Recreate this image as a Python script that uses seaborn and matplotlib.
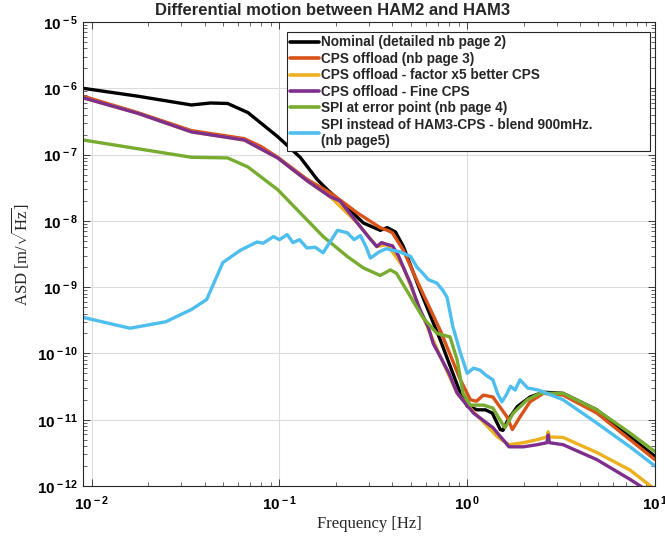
import numpy as np
import pandas as pd
import matplotlib
matplotlib.use("Agg")
import matplotlib.pyplot as plt
from matplotlib.ticker import LogLocator, FuncFormatter, NullFormatter
import seaborn as sns

# ---------------- data ----------------
labels = [
    "Nominal (detailed nb page 2)",
    "CPS offload (nb page 3)",
    "CPS offload - factor x5 better CPS",
    "CPS offload - Fine CPS",
    "SPI at error point (nb page 4)",
    "SPI instead of HAM3-CPS - blend 900mHz.\n(nb page5)",
]
colors = ["#000000", "#D95319", "#EDB120", "#7E2F8E", "#77AC30", "#4DBEEE"]

nominal_f = [0.009, 0.0176, 0.034, 0.043, 0.053, 0.068, 0.098, 0.129, 0.159, 0.18,
             0.22, 0.28, 0.344, 0.375, 0.415, 0.457, 0.56, 0.72, 0.92, 1.0, 1.13,
             1.25, 1.36, 1.5, 1.55, 1.65, 1.85, 2.16, 2.54, 3.24, 4.9, 7.36, 10.0]
nominal_a = [1.0e-6, 7.6e-7, 5.6e-7, 6.0e-7, 5.9e-7, 4.3e-7, 1.86e-7, 9.1e-8, 4.2e-8, 2.95e-8,
             1.78e-8, 9.3e-9, 7.2e-9, 7.9e-9, 6.8e-9, 4.1e-9, 9.1e-10, 1.58e-10, 2.5e-11, 1.6e-11, 1.41e-11,
             1.41e-11, 1.26e-11, 7.1e-12, 6.9e-12, 1.0e-11, 1.58e-11, 2.2e-11, 2.6e-11, 2.5e-11, 1.41e-11, 5.5e-12, 2.8e-12]

cps_f = [0.009, 0.0176, 0.034, 0.065, 0.08, 0.098, 0.141, 0.18, 0.194, 0.26, 0.344,
         0.38, 0.40, 0.457, 0.56, 0.72, 0.92, 1.04, 1.12, 1.22, 1.37, 1.63, 1.74,
         1.91, 2.16, 2.54, 3.24, 4.9, 7.36, 10.0]
cps_a = [7.6e-7, 4.3e-7, 2.3e-7, 1.74e-7, 1.32e-7, 9.1e-8, 4.2e-8, 2.8e-8, 2.45e-8, 1.32e-8, 7.9e-9,
         7.1e-9, 6.6e-9, 3.6e-9, 1.0e-9, 2.2e-10, 4.0e-11, 2.0e-11, 1.9e-11, 2.35e-11, 2.2e-11, 1.1e-11, 7.1e-12,
         1.1e-11, 1.86e-11, 2.5e-11, 2.35e-11, 1.26e-11, 5.0e-12, 2.5e-12]

x5_f = [0.009, 0.0176, 0.034, 0.065, 0.098, 0.141, 0.187, 0.26, 0.33, 0.375, 0.457,
        0.56, 0.72, 0.885, 1.08, 1.45, 1.67, 1.99, 2.36, 2.66, 2.7, 2.74, 3.24,
        4.9, 7.36, 10.0]
x5_a = [7.2e-7, 4.2e-7, 2.2e-7, 1.66e-7, 8.9e-8, 4.0e-8, 2.3e-8, 9.3e-9, 4.1e-9, 4.4e-9, 2.0e-9,
        4.6e-10, 8.9e-11, 2.5e-11, 1.32e-11, 5.5e-12, 4.2e-12, 4.5e-12, 5.0e-12, 5.5e-12, 6.6e-12, 5.5e-12, 5.4e-12,
        3.2e-12, 1.74e-12, 8.9e-13]

fine_f = [0.009, 0.0176, 0.034, 0.065, 0.098, 0.141, 0.187, 0.21, 0.26, 0.30, 0.33,
          0.35, 0.375, 0.40, 0.43, 0.457, 0.50, 0.53, 0.56, 0.62, 0.66, 0.72, 0.8,
          0.885, 1.08, 1.37, 1.67, 1.99, 2.36, 2.66, 2.7, 2.74, 3.24, 4.9, 7.36, 10.0]
fine_a = [7.2e-7, 4.2e-7, 2.2e-7, 1.66e-7, 8.9e-8, 4.0e-8, 2.3e-8, 2.0e-8, 9.3e-9, 5.6e-9, 4.1e-9,
          4.7e-9, 4.4e-9, 4.2e-9, 3.0e-9, 2.0e-9, 1.12e-9, 7.0e-10, 4.6e-10, 2.5e-10, 1.4e-10, 8.9e-11, 5.0e-11,
          2.5e-11, 1.26e-11, 7.6e-12, 3.9e-12, 3.9e-12, 4.2e-12, 4.5e-12, 5.9e-12, 4.5e-12, 4.2e-12, 2.5e-12, 1.26e-12, 7.2e-13]

spi_err_f = [0.009, 0.034, 0.053, 0.068, 0.098, 0.171, 0.23, 0.28, 0.344, 0.39, 0.42,
             0.50, 0.58, 0.69, 0.74, 0.81, 0.885, 0.95, 1.04, 1.22, 1.37, 1.53, 1.59,
             1.76, 2.09, 2.44, 3.24, 4.9, 7.36, 10.0]
spi_err_a = [1.66e-7, 9.1e-8, 8.9e-8, 6.5e-8, 2.95e-8, 5.8e-9, 2.9e-9, 1.95e-9, 1.5e-9, 1.82e-9, 1.62e-9,
             7.1e-10, 3.5e-10, 2.0e-10, 1.9e-10, 1.78e-10, 7.9e-11, 2.5e-11, 1.66e-11, 1.66e-11, 1.5e-11, 8.9e-12, 7.6e-12,
             1.26e-11, 2.0e-11, 2.5e-11, 2.5e-11, 1.41e-11, 6.3e-12, 3.3e-12]

spi_f = [0.009, 0.016, 0.0248, 0.034, 0.041, 0.05, 0.062, 0.076, 0.082, 0.093, 0.10,
         0.11, 0.118, 0.128, 0.14, 0.155, 0.171, 0.185, 0.204, 0.23, 0.25, 0.27, 0.29,
         0.305, 0.34, 0.37, 0.40, 0.44, 0.5, 0.54, 0.58, 0.62, 0.69, 0.74, 0.78, 0.84,
         0.92, 1.0, 1.08, 1.17, 1.27, 1.37, 1.45, 1.53, 1.62, 1.7, 1.8, 1.91, 2.1, 2.4,
         3.24, 4.9, 7.36, 10.0]
spi_a = [3.5e-10, 2.4e-10, 3.0e-10, 4.6e-10, 6.5e-10, 2.35e-9, 3.6e-9, 4.8e-9, 4.6e-9, 5.8e-9, 5.2e-9,
         6.2e-9, 4.7e-9, 5.2e-9, 3.9e-9, 4.0e-9, 3.3e-9, 4.7e-9, 7.2e-9, 6.6e-9, 5.2e-9, 6.0e-9, 4.0e-9,
         2.75e-9, 3.4e-9, 3.8e-9, 3.6e-9, 3.4e-9, 2.9e-9, 2.0e-9, 1.62e-9, 1.3e-9, 1.15e-9, 9.0e-10, 7.1e-10, 2.5e-10,
         1.02e-10, 5.0e-11, 6.0e-11, 5.6e-11, 4.6e-11, 4.0e-11, 2.5e-11, 1.86e-11, 2.4e-11, 3.2e-11, 2.8e-11, 4.0e-11, 3.0e-11, 2.8e-11,
         2.0e-11, 8.9e-12, 3.9e-12, 2.0e-12]

series = [
    (nominal_f, nominal_a),
    (cps_f, cps_a),
    (x5_f, x5_a),
    (fine_f, fine_a),
    (spi_err_f, spi_err_a),
    (spi_f, spi_a),
]

# ---------------- styling ----------------
sns.set_theme(style="white")
plt.rcParams["font.family"] = ["Liberation Sans", "DejaVu Sans"]
plt.rcParams["mathtext.fontset"] = "custom"
plt.rcParams["mathtext.rm"] = "Liberation Serif"
plt.rcParams["mathtext.it"] = "Liberation Serif:italic"
plt.rcParams["mathtext.bf"] = "Liberation Sans:bold"

fig = plt.figure(figsize=(6.65, 5.36), dpi=100)
ax = fig.add_axes([83 / 665, 50 / 536, 572 / 665, 464 / 536])

for (f, a), lab, col in zip(series, labels, colors):
    df = pd.DataFrame({"f": f, "asd": a})
    sns.lineplot(data=df, x="f", y="asd", ax=ax, color=col, linewidth=2.4,
                 label=lab, sort=False, estimator=None)

ax.set_xscale("log")
ax.set_yscale("log")
ax.set_xlim(0.009, 10)
ax.set_ylim(1e-12, 1e-5)

ax.xaxis.set_major_locator(LogLocator(base=10, numticks=20))
ax.yaxis.set_major_locator(LogLocator(base=10, numticks=20))
ax.xaxis.set_minor_locator(LogLocator(base=10, subs=np.arange(2, 10), numticks=100))
ax.yaxis.set_minor_locator(LogLocator(base=10, subs=np.arange(2, 10), numticks=100))
fmt = FuncFormatter(lambda v, p: r"$\mathbf{10^{\,%d}}$" % int(round(np.log10(v))))
ax.xaxis.set_major_formatter(fmt)
ax.yaxis.set_major_formatter(fmt)
ax.xaxis.set_minor_formatter(NullFormatter())
ax.yaxis.set_minor_formatter(NullFormatter())

ax.tick_params(which="both", direction="in", top=True, right=True,
               bottom=True, left=True, colors="#262626", labelcolor="black")
ax.tick_params(which="major", length=5, width=0.6, labelsize=11)
ax.tick_params(which="minor", length=3, width=0.5)
ax.tick_params(axis="x", pad=6)

ax.grid(True, which="major", color="#dcdcdc", linewidth=0.8)
for s in ax.spines.values():
    s.set_color("#262626")
    s.set_linewidth(0.8)

ax.set_xlabel("Frequency [Hz]", fontfamily="Liberation Serif", fontsize=12, labelpad=2)
ax.set_ylabel(r"ASD $[\mathrm{m}/\sqrt{\mathrm{Hz}}]$", fontfamily="Liberation Serif", fontsize=12, labelpad=4)
fig.text(0.5, 1 - 10.5 / 536, "Differential motion between HAM2 and HAM3", fontsize=12,
         fontweight="bold", ha="center", va="center")

x0 = (287 - 83) / 572
x1 = (650 - 83) / 572
ytop = (486 - 32) / 464
leg = ax.legend(loc="upper left", bbox_to_anchor=(x0, 0.5, x1 - x0, ytop - 0.5),
                mode="expand", borderaxespad=0,
                prop={"family": "Liberation Sans", "weight": "bold", "size": 9.8},
                frameon=True, fancybox=False, handlelength=2.1, handletextpad=0.15,
                labelspacing=0.18, borderpad=0.25)
leg.get_frame().set_edgecolor("#262626")
leg.get_frame().set_linewidth(0.8)
leg.get_frame().set_alpha(1)
for line in leg.get_lines():
    line.set_linewidth(2.6)

fig.savefig("out.png", dpi=100)
